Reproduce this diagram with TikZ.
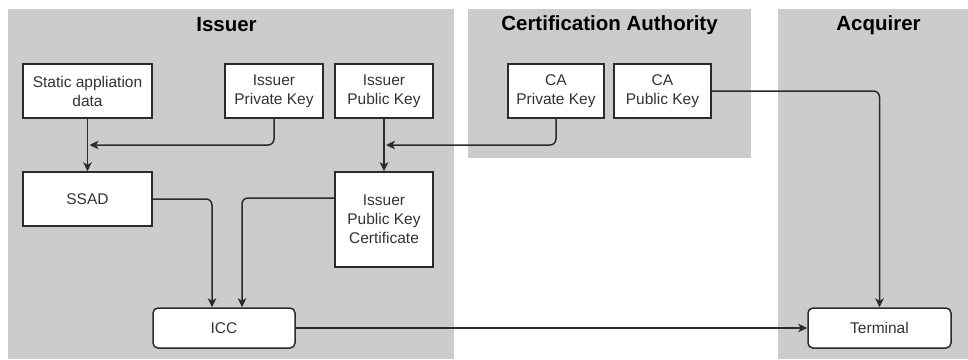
\documentclass[tikz,border=0pt]{standalone}
\usepackage{fontspec}
\setmainfont{Liberation Sans}
\usetikzlibrary{arrows.meta}
\definecolor{lane}{HTML}{CCCCCC}
\definecolor{ink}{HTML}{2B2B2B}
\definecolor{txt}{HTML}{333333}
\tikzset{
  lanebox/.style={fill=lane, draw=none},
  lanetitle/.style={font=\fontsize{20.5}{24}\selectfont\bfseries, text=black, inner sep=0pt},
  keybox/.style={draw=ink, fill=white, line width=1.5pt, inner sep=0pt, align=center,
    text=txt, font=\fontsize{15.5}{19}\selectfont},
  cardbox/.style={keybox, rounded corners=5pt},
  flow/.style={draw=ink, line width=1.5pt, rounded corners=6pt,
    -{Stealth[length=9pt, width=8.5pt, inset=2.5pt]}},
}
\begin{document}
\begin{tikzpicture}[x=1pt, y=-1pt]
\useasboundingbox (0,0) rectangle (968,359);

% background lanes
\fill[lanebox] (8,9) rectangle (454,359);
\fill[lanebox] (468,9) rectangle (751,158);
\fill[lanebox] (778,9) rectangle (968,359);

\node[lanetitle] (tIssuer) at (226.5,25) {Issuer};
\node[lanetitle] (tCA) at (609.5,25) {Certification Authority};
\node[lanetitle] (tAcq) at (878.5,25) {Acquirer};

% issuer boxes
\node[keybox, minimum width=129pt, minimum height=54pt] (static) at (87.5,91) {Static appliation\\data};
\node[keybox, minimum width=98pt, minimum height=54pt] (ipriv) at (274,91) {Issuer\\Private Key};
\node[keybox, minimum width=98pt, minimum height=54pt] (ipub) at (384,91) {Issuer\\Public Key};
\node[keybox, minimum width=129pt, minimum height=54pt] (ssad) at (87.5,199) {SSAD};
\node[keybox, minimum width=98pt, minimum height=95pt] (cert) at (384,219.5) {Issuer\\Public Key\\Certificate};
\node[cardbox, minimum width=142pt, minimum height=40pt] (icc) at (224,328) {ICC};

% certification authority boxes
\node[keybox, minimum width=96pt, minimum height=54pt] (capriv) at (556,91) {CA\\Private Key};
\node[keybox, minimum width=97pt, minimum height=54pt] (capub) at (662.5,91) {CA\\Public Key};

% acquirer box
\node[cardbox, minimum width=143pt, minimum height=40pt] (term) at (879.5,328) {Terminal};

% points where key arrows meet the vertical flows
\coordinate (signA) at (89.5,145);
\coordinate (signB) at (386,145);

% connectors
\draw[flow] (static.south) -- (ssad.north);
\draw[flow] (ipriv.south) |- (signA);
\draw[flow] (ipub.south) -- (cert.north);
\draw[flow] (capriv.south) |- (signB);
\draw[flow] (capub.east) -| (term.north);
\draw[flow] (ssad.east) -| ([xshift=-12pt]icc.north);
\draw[flow] ([yshift=21.5pt]cert.west) -| ([xshift=18pt]icc.north);
\draw[flow] (icc.east) -- (term.west);
\end{tikzpicture}
\end{document}
